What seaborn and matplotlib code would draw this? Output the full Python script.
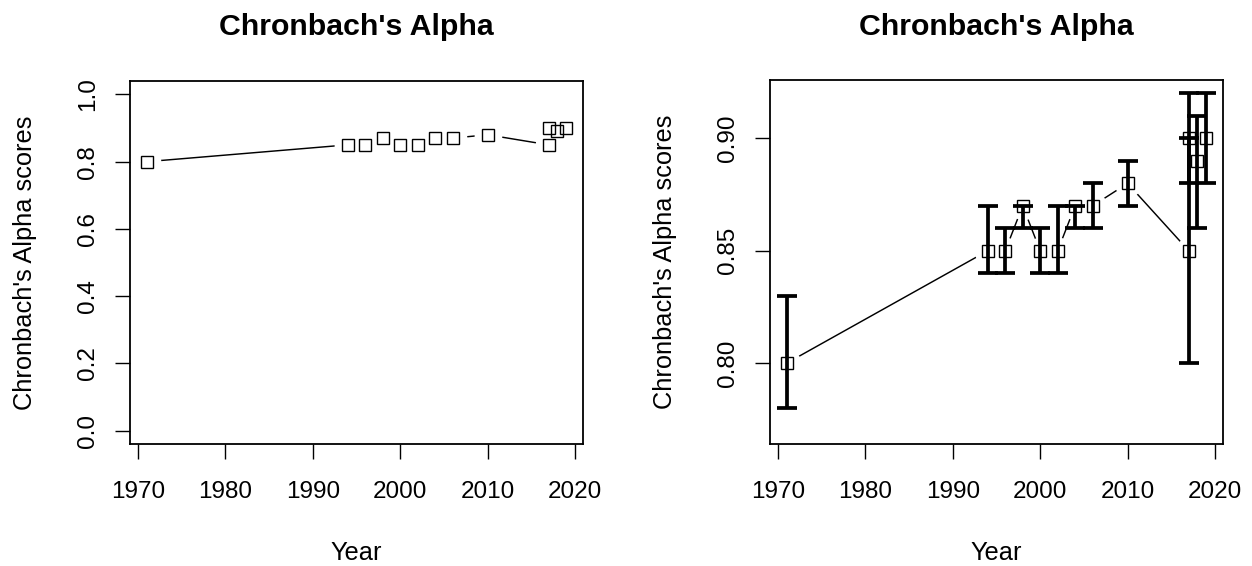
import numpy as np
import pandas as pd
import matplotlib
matplotlib.use("Agg")
import matplotlib.pyplot as plt
import seaborn as sns

# ---- data ----
years = [1971, 1994, 1996, 1998, 2000, 2002, 2004, 2006, 2010, 2017, 2017, 2018, 2019]
alpha = [0.80, 0.85, 0.85, 0.87, 0.85, 0.85, 0.87, 0.87, 0.88, 0.85, 0.90, 0.89, 0.90]
ci_lower = [0.78, 0.84, 0.84, 0.86, 0.84, 0.84, 0.86, 0.86, 0.87, 0.80, 0.88, 0.86, 0.88]
ci_upper = [0.83, 0.87, 0.86, 0.87, 0.86, 0.87, 0.87, 0.88, 0.89, 0.92, 0.90, 0.91, 0.92]
title_text = "Chronbach's Alpha"
xlabel_text = "Year"
ylabel_text = "Chronbach's Alpha scores"
xticks = [1970, 1980, 1990, 2000, 2010, 2020]
yticks_left = [0.0, 0.2, 0.4, 0.6, 0.8, 1.0]
yticks_right = [0.80, 0.85, 0.90]

df = pd.DataFrame({"Year": years, "Alpha": alpha, "lo": ci_lower, "hi": ci_upper})

sns.set_theme(style="white")
plt.rcParams["font.family"] = ["Liberation Sans", "DejaVu Sans"]

W, H = 1252, 566
fig = plt.figure(figsize=(W / 100, H / 100), dpi=100)
fig.patch.set_facecolor("white")

def px_axes(x0, x1, y0, y1):
    return fig.add_axes([x0 / W, (H - y1) / H, (x1 - x0) / W, (y1 - y0) / H])

axL = px_axes(130, 583, 81, 444)
axR = px_axes(770, 1223, 80, 444)

FS_TICK = 17.5
FS_LAB = 18.3
FS_TITLE = 21.8

def draw(ax, with_err):
    sns.lineplot(data=df, x="Year", y="Alpha", ax=ax, sort=False, estimator=None,
                 color="black", linewidth=1.05, zorder=1)
    # gaps around points (R type="b")
    ax.plot(df["Year"], df["Alpha"], linestyle="none", marker="o", markersize=20,
            markerfacecolor="white", markeredgecolor="none", zorder=1.5)
    ax.plot(df["Year"], df["Alpha"], linestyle="none", marker="s", markersize=8.6,
            markerfacecolor="none", markeredgecolor="black", markeredgewidth=1.0, zorder=3)
    if with_err:
        yerr = [df["Alpha"] - df["lo"], df["hi"] - df["Alpha"]]
        ax.errorbar(df["Year"], df["Alpha"], yerr=yerr, fmt="none", ecolor="black",
                    elinewidth=2.7, capsize=7.5, capthick=2.7, zorder=4)
    ax.set_xlim(1969.08, 2020.92)
    ax.set_xticks(xticks)
    ax.set_xticklabels([str(t) for t in xticks])
    for s in ax.spines.values():
        s.set_visible(True)
        s.set_color("black")
        s.set_linewidth(1.3)
    ax.tick_params(axis="both", direction="out", length=10.5, width=1.0, color="black",
                   labelsize=FS_TICK, labelcolor="black", left=True, bottom=True)
    ax.tick_params(axis="x", pad=16.5)
    ax.tick_params(axis="y", pad=12)
    ax.set_xlabel(xlabel_text, fontsize=FS_LAB, color="black", va="center")
    ax.set_ylabel(ylabel_text, fontsize=FS_LAB, color="black", va="center")
    ax.xaxis.set_label_coords(0.5, -(553 - 444) / 363)
    ax.yaxis.set_label_coords(-(105) / 453, 0.5)
    ax.grid(False)
    ax.set_facecolor("white")

draw(axL, False)
axL.set_ylim(-0.04, 1.04)
axL.set_yticks(yticks_left)
axL.set_yticklabels([f"{v:.1f}" for v in yticks_left])

draw(axR, True)
axR.set_ylim(0.764, 0.926)
axR.set_yticks(yticks_right)
axR.set_yticklabels([f"{v:.2f}" for v in yticks_right])

for ax in (axL, axR):
    plt.setp(ax.get_yticklabels(), rotation=90, va="center")
    pos = ax.get_position()
    fig.text(pos.x0 + pos.width / 2, 1 - 35 / H, title_text, ha="center", va="baseline",
             fontsize=FS_TITLE, fontweight="bold", color="black")

fig.savefig("out.png", dpi=100, facecolor="white")
